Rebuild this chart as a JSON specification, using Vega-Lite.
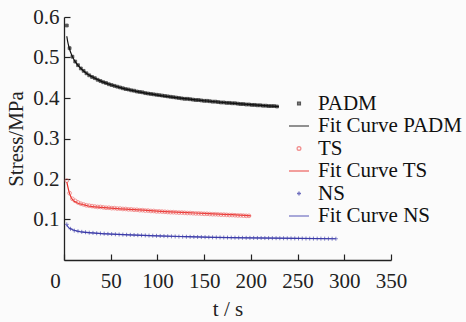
{
  "$schema": "https://vega.github.io/schema/vega-lite/v6.json",
  "width": 327,
  "height": 243,
  "autosize": {"type": "none"},
  "padding": {"left": 64, "top": 17, "right": 75, "bottom": 62},
  "background": "#fbfbfb",
  "datasets": {
    "pts": [
      {"series":"PADM","t":3,"stress":0.579},{"series":"PADM","t":6,"stress":0.523},{"series":"PADM","t":9,"stress":0.502},{"series":"PADM","t":12,"stress":0.490},{"series":"PADM","t":15,"stress":0.481},{"series":"PADM","t":18,"stress":0.473},{"series":"PADM","t":21,"stress":0.467},{"series":"PADM","t":24,"stress":0.461},{"series":"PADM","t":27,"stress":0.456},{"series":"PADM","t":30,"stress":0.452},{"series":"PADM","t":33,"stress":0.449},{"series":"PADM","t":36,"stress":0.445},{"series":"PADM","t":39,"stress":0.442},{"series":"PADM","t":42,"stress":0.439},{"series":"PADM","t":45,"stress":0.437},{"series":"PADM","t":48,"stress":0.434},{"series":"PADM","t":51,"stress":0.432},{"series":"PADM","t":54,"stress":0.430},{"series":"PADM","t":57,"stress":0.428},{"series":"PADM","t":60,"stress":0.426},{"series":"PADM","t":63,"stress":0.424},{"series":"PADM","t":66,"stress":0.422},{"series":"PADM","t":69,"stress":0.421},{"series":"PADM","t":72,"stress":0.419},{"series":"PADM","t":75,"stress":0.418},{"series":"PADM","t":78,"stress":0.416},{"series":"PADM","t":81,"stress":0.415},{"series":"PADM","t":84,"stress":0.414},{"series":"PADM","t":87,"stress":0.412},{"series":"PADM","t":90,"stress":0.411},{"series":"PADM","t":93,"stress":0.410},{"series":"PADM","t":96,"stress":0.409},{"series":"PADM","t":99,"stress":0.408},{"series":"PADM","t":102,"stress":0.407},{"series":"PADM","t":105,"stress":0.406},{"series":"PADM","t":108,"stress":0.405},{"series":"PADM","t":111,"stress":0.404},{"series":"PADM","t":114,"stress":0.403},{"series":"PADM","t":117,"stress":0.402},{"series":"PADM","t":120,"stress":0.401},{"series":"PADM","t":123,"stress":0.400},{"series":"PADM","t":126,"stress":0.399},{"series":"PADM","t":129,"stress":0.398},{"series":"PADM","t":132,"stress":0.398},{"series":"PADM","t":135,"stress":0.397},{"series":"PADM","t":138,"stress":0.396},{"series":"PADM","t":141,"stress":0.395},{"series":"PADM","t":144,"stress":0.395},{"series":"PADM","t":147,"stress":0.394},{"series":"PADM","t":150,"stress":0.393},{"series":"PADM","t":153,"stress":0.393},{"series":"PADM","t":156,"stress":0.392},{"series":"PADM","t":159,"stress":0.391},{"series":"PADM","t":162,"stress":0.391},{"series":"PADM","t":165,"stress":0.390},{"series":"PADM","t":168,"stress":0.389},{"series":"PADM","t":171,"stress":0.389},{"series":"PADM","t":174,"stress":0.388},{"series":"PADM","t":177,"stress":0.388},{"series":"PADM","t":180,"stress":0.387},{"series":"PADM","t":183,"stress":0.387},{"series":"PADM","t":186,"stress":0.386},{"series":"PADM","t":189,"stress":0.385},{"series":"PADM","t":192,"stress":0.385},{"series":"PADM","t":195,"stress":0.384},{"series":"PADM","t":198,"stress":0.384},{"series":"PADM","t":201,"stress":0.383},{"series":"PADM","t":204,"stress":0.383},{"series":"PADM","t":207,"stress":0.382},{"series":"PADM","t":210,"stress":0.382},{"series":"PADM","t":213,"stress":0.381},{"series":"PADM","t":216,"stress":0.381},{"series":"PADM","t":219,"stress":0.380},{"series":"PADM","t":222,"stress":0.380},{"series":"PADM","t":225,"stress":0.380},{"series":"PADM","t":228,"stress":0.379},
      {"series":"TS","t":3,"stress":0.196},{"series":"TS","t":6,"stress":0.165},{"series":"TS","t":9,"stress":0.151},{"series":"TS","t":12,"stress":0.146},{"series":"TS","t":15,"stress":0.142},{"series":"TS","t":18,"stress":0.139},{"series":"TS","t":21,"stress":0.137},{"series":"TS","t":24,"stress":0.135},{"series":"TS","t":27,"stress":0.134},{"series":"TS","t":30,"stress":0.133},{"series":"TS","t":33,"stress":0.132},{"series":"TS","t":36,"stress":0.131},{"series":"TS","t":39,"stress":0.131},{"series":"TS","t":42,"stress":0.130},{"series":"TS","t":45,"stress":0.129},{"series":"TS","t":48,"stress":0.129},{"series":"TS","t":51,"stress":0.128},{"series":"TS","t":54,"stress":0.128},{"series":"TS","t":57,"stress":0.127},{"series":"TS","t":60,"stress":0.127},{"series":"TS","t":63,"stress":0.126},{"series":"TS","t":66,"stress":0.126},{"series":"TS","t":69,"stress":0.125},{"series":"TS","t":72,"stress":0.125},{"series":"TS","t":75,"stress":0.124},{"series":"TS","t":78,"stress":0.124},{"series":"TS","t":81,"stress":0.123},{"series":"TS","t":84,"stress":0.123},{"series":"TS","t":87,"stress":0.122},{"series":"TS","t":90,"stress":0.122},{"series":"TS","t":93,"stress":0.121},{"series":"TS","t":96,"stress":0.121},{"series":"TS","t":99,"stress":0.120},{"series":"TS","t":102,"stress":0.120},{"series":"TS","t":105,"stress":0.1195},{"series":"TS","t":108,"stress":0.119},{"series":"TS","t":111,"stress":0.1185},{"series":"TS","t":114,"stress":0.118},{"series":"TS","t":117,"stress":0.118},{"series":"TS","t":120,"stress":0.1175},{"series":"TS","t":123,"stress":0.117},{"series":"TS","t":126,"stress":0.117},{"series":"TS","t":129,"stress":0.1165},{"series":"TS","t":132,"stress":0.116},{"series":"TS","t":135,"stress":0.116},{"series":"TS","t":138,"stress":0.1155},{"series":"TS","t":141,"stress":0.115},{"series":"TS","t":144,"stress":0.115},{"series":"TS","t":147,"stress":0.1145},{"series":"TS","t":150,"stress":0.114},{"series":"TS","t":153,"stress":0.114},{"series":"TS","t":156,"stress":0.1135},{"series":"TS","t":159,"stress":0.113},{"series":"TS","t":162,"stress":0.113},{"series":"TS","t":165,"stress":0.1125},{"series":"TS","t":168,"stress":0.112},{"series":"TS","t":171,"stress":0.112},{"series":"TS","t":174,"stress":0.1115},{"series":"TS","t":177,"stress":0.111},{"series":"TS","t":180,"stress":0.111},{"series":"TS","t":183,"stress":0.1105},{"series":"TS","t":186,"stress":0.110},{"series":"TS","t":189,"stress":0.110},{"series":"TS","t":192,"stress":0.1095},{"series":"TS","t":195,"stress":0.109},{"series":"TS","t":198,"stress":0.109},
      {"series":"NS","t":3,"stress":0.088},{"series":"NS","t":7,"stress":0.077},{"series":"NS","t":11,"stress":0.0725},{"series":"NS","t":15,"stress":0.071},{"series":"NS","t":19,"stress":0.0695},{"series":"NS","t":23,"stress":0.0685},{"series":"NS","t":27,"stress":0.0675},{"series":"NS","t":31,"stress":0.067},{"series":"NS","t":35,"stress":0.066},{"series":"NS","t":39,"stress":0.0655},{"series":"NS","t":43,"stress":0.065},{"series":"NS","t":47,"stress":0.0645},{"series":"NS","t":51,"stress":0.064},{"series":"NS","t":55,"stress":0.0635},{"series":"NS","t":59,"stress":0.063},{"series":"NS","t":63,"stress":0.0627},{"series":"NS","t":67,"stress":0.0623},{"series":"NS","t":71,"stress":0.062},{"series":"NS","t":75,"stress":0.0617},{"series":"NS","t":79,"stress":0.0613},{"series":"NS","t":83,"stress":0.061},{"series":"NS","t":87,"stress":0.0607},{"series":"NS","t":91,"stress":0.0603},{"series":"NS","t":95,"stress":0.060},{"series":"NS","t":99,"stress":0.0597},{"series":"NS","t":103,"stress":0.0593},{"series":"NS","t":107,"stress":0.059},{"series":"NS","t":111,"stress":0.0587},{"series":"NS","t":115,"stress":0.0584},{"series":"NS","t":119,"stress":0.0581},{"series":"NS","t":123,"stress":0.0578},{"series":"NS","t":127,"stress":0.0576},{"series":"NS","t":131,"stress":0.0574},{"series":"NS","t":135,"stress":0.0572},{"series":"NS","t":139,"stress":0.057},{"series":"NS","t":143,"stress":0.0568},{"series":"NS","t":147,"stress":0.0566},{"series":"NS","t":151,"stress":0.0564},{"series":"NS","t":155,"stress":0.0562},{"series":"NS","t":159,"stress":0.056},{"series":"NS","t":163,"stress":0.0558},{"series":"NS","t":167,"stress":0.0557},{"series":"NS","t":171,"stress":0.0555},{"series":"NS","t":175,"stress":0.0554},{"series":"NS","t":179,"stress":0.0552},{"series":"NS","t":183,"stress":0.0551},{"series":"NS","t":187,"stress":0.0549},{"series":"NS","t":191,"stress":0.0548},{"series":"NS","t":195,"stress":0.0547},{"series":"NS","t":199,"stress":0.0546},{"series":"NS","t":203,"stress":0.0545},{"series":"NS","t":207,"stress":0.0544},{"series":"NS","t":211,"stress":0.0543},{"series":"NS","t":215,"stress":0.0542},{"series":"NS","t":219,"stress":0.0541},{"series":"NS","t":223,"stress":0.054},{"series":"NS","t":227,"stress":0.0539},{"series":"NS","t":231,"stress":0.0538},{"series":"NS","t":235,"stress":0.0537},{"series":"NS","t":239,"stress":0.0536},{"series":"NS","t":243,"stress":0.0535},{"series":"NS","t":247,"stress":0.0534},{"series":"NS","t":251,"stress":0.0533},{"series":"NS","t":255,"stress":0.0532},{"series":"NS","t":259,"stress":0.0531},{"series":"NS","t":263,"stress":0.053},{"series":"NS","t":267,"stress":0.0529},{"series":"NS","t":271,"stress":0.0528},{"series":"NS","t":275,"stress":0.0528},{"series":"NS","t":279,"stress":0.0527},{"series":"NS","t":283,"stress":0.0526},{"series":"NS","t":287,"stress":0.0526},{"series":"NS","t":291,"stress":0.0525}
    ],
    "fits": [
      {"series":"Fit Curve PADM","t":3,"stress":0.5525},{"series":"Fit Curve PADM","t":4,"stress":0.5389},{"series":"Fit Curve PADM","t":5,"stress":0.5286},{"series":"Fit Curve PADM","t":6,"stress":0.5203},{"series":"Fit Curve PADM","t":8,"stress":0.5074},{"series":"Fit Curve PADM","t":10,"stress":0.4977},{"series":"Fit Curve PADM","t":12,"stress":0.4898},{"series":"Fit Curve PADM","t":15,"stress":0.4804},{"series":"Fit Curve PADM","t":20,"stress":0.4685},{"series":"Fit Curve PADM","t":25,"stress":0.4595},{"series":"Fit Curve PADM","t":30,"stress":0.4523},{"series":"Fit Curve PADM","t":40,"stress":0.4411},{"series":"Fit Curve PADM","t":50,"stress":0.4327},{"series":"Fit Curve PADM","t":60,"stress":0.4258},{"series":"Fit Curve PADM","t":80,"stress":0.4153},{"series":"Fit Curve PADM","t":100,"stress":0.4073},{"series":"Fit Curve PADM","t":125,"stress":0.3995},{"series":"Fit Curve PADM","t":150,"stress":0.3932},{"series":"Fit Curve PADM","t":175,"stress":0.388},{"series":"Fit Curve PADM","t":200,"stress":0.3834},{"series":"Fit Curve PADM","t":230,"stress":0.3789},
      {"series":"Fit Curve TS","t":3,"stress":0.193},{"series":"Fit Curve TS","t":4,"stress":0.182},{"series":"Fit Curve TS","t":5,"stress":0.172},{"series":"Fit Curve TS","t":6,"stress":0.164},{"series":"Fit Curve TS","t":7,"stress":0.158},{"series":"Fit Curve TS","t":8,"stress":0.153},{"series":"Fit Curve TS","t":10,"stress":0.147},{"series":"Fit Curve TS","t":12,"stress":0.144},{"series":"Fit Curve TS","t":15,"stress":0.140},{"series":"Fit Curve TS","t":20,"stress":0.137},{"series":"Fit Curve TS","t":25,"stress":0.134},{"series":"Fit Curve TS","t":30,"stress":0.132},{"series":"Fit Curve TS","t":40,"stress":0.130},{"series":"Fit Curve TS","t":50,"stress":0.128},{"series":"Fit Curve TS","t":60,"stress":0.126},{"series":"Fit Curve TS","t":70,"stress":0.125},{"series":"Fit Curve TS","t":85,"stress":0.123},{"series":"Fit Curve TS","t":100,"stress":0.1205},{"series":"Fit Curve TS","t":120,"stress":0.118},{"series":"Fit Curve TS","t":140,"stress":0.116},{"series":"Fit Curve TS","t":160,"stress":0.114},{"series":"Fit Curve TS","t":180,"stress":0.112},{"series":"Fit Curve TS","t":200,"stress":0.109},
      {"series":"Fit Curve NS","t":3,"stress":0.086},{"series":"Fit Curve NS","t":5,"stress":0.080},{"series":"Fit Curve NS","t":7,"stress":0.077},{"series":"Fit Curve NS","t":10,"stress":0.074},{"series":"Fit Curve NS","t":15,"stress":0.071},{"series":"Fit Curve NS","t":20,"stress":0.069},{"series":"Fit Curve NS","t":30,"stress":0.067},{"series":"Fit Curve NS","t":40,"stress":0.065},{"series":"Fit Curve NS","t":50,"stress":0.064},{"series":"Fit Curve NS","t":70,"stress":0.062},{"series":"Fit Curve NS","t":100,"stress":0.0597},{"series":"Fit Curve NS","t":130,"stress":0.0578},{"series":"Fit Curve NS","t":160,"stress":0.0561},{"series":"Fit Curve NS","t":200,"stress":0.0546},{"series":"Fit Curve NS","t":250,"stress":0.0533},{"series":"Fit Curve NS","t":291,"stress":0.0525}
    ]
  },
  "layer": [
    {
      "data": {"name": "fits"},
      "mark": {"type": "line", "strokeWidth": 1.2, "interpolate": "monotone"},
      "encoding": {
        "x": {"field": "t", "type": "quantitative", "scale": {"domain": [0, 350], "nice": false},
          "axis": {"values": [0,50,100,150,200,250,300,350], "title": "t / s", "titlePadding": 7, "labelPadding": 16,
            "labelOffset": {"condition": {"test": "datum.value === 0", "value": -9}, "value": 0}}},
        "y": {"field": "stress", "type": "quantitative", "scale": {"domain": [0, 0.6], "nice": false},
          "axis": {"values": [0.1,0.2,0.3,0.4,0.5,0.6], "format": ".1f", "title": "Stress/MPa", "titlePadding": 6, "labelPadding": 11}},
        "stroke": {"field": "series", "type": "nominal",
          "scale": {"domain": ["PADM","Fit Curve PADM","TS","Fit Curve TS","NS","Fit Curve NS"],
                    "range": ["#111111","#111111","#ee6060","#e8302a","#3535a5","#4545b0"]},
          "legend": {"orient": "none", "legendX": 224, "legendY": 76, "title": null,
            "labelFont": "Liberation Serif", "labelFontSize": 21, "labelColor": "#111111",
            "rowPadding": 1, "labelOffset": 8, "symbolStrokeWidth": 1.3}},
        "detail": {"field": "series"}
      }
    },
    {
      "data": {"name": "pts"},
      "mark": {"type": "point", "strokeWidth": 0.9},
      "encoding": {
        "x": {"field": "t", "type": "quantitative"},
        "y": {"field": "stress", "type": "quantitative"},
        "stroke": {"field": "series", "type": "nominal"},
        "fill": {"field": "series", "type": "nominal",
          "scale": {"domain": ["PADM","Fit Curve PADM","TS","Fit Curve TS","NS","Fit Curve NS"],
                    "range": ["#111111","transparent","transparent","transparent","transparent","transparent"]}},
        "shape": {"field": "series", "type": "nominal",
          "scale": {"domain": ["PADM","Fit Curve PADM","TS","Fit Curve TS","NS","Fit Curve NS"],
                    "range": ["square","stroke","circle","stroke","M-1,0L1,0M0,-1L0,1","stroke"]}},
        "size": {"field": "series", "type": "nominal",
          "scale": {"type": "ordinal", "domain": ["PADM","Fit Curve PADM","TS","Fit Curve TS","NS","Fit Curve NS"],
                    "range": [8,400,14,400,16,400]}}
      }
    }
  ],
  "config": {
    "view": {"stroke": null},
    "axis": {
      "labelFont": "Liberation Serif", "titleFont": "Liberation Serif",
      "labelFontSize": 21, "titleFontSize": 21, "titleFontWeight": "normal",
      "labelColor": "#222222", "titleColor": "#222222",
      "domainColor": "#222222", "tickColor": "#222222", "domainWidth": 1.3, "tickWidth": 1.2,
      "grid": false, "tickSize": -6, "labelFlush": false
    }
  }
}
